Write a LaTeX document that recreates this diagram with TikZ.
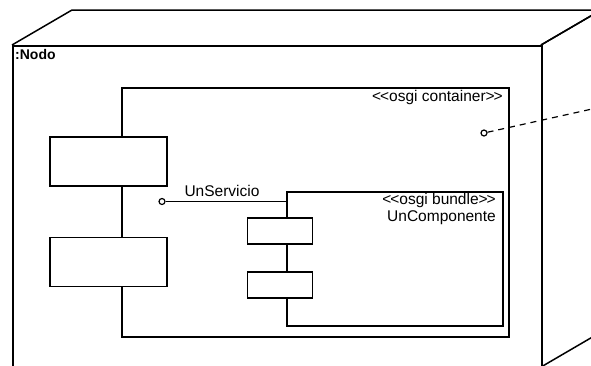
\documentclass[tikz,border=0pt]{standalone}
\usepackage{fontspec}
\setmainfont{Liberation Sans}
\usepackage{tikz}
\usetikzlibrary{positioning,calc}

\tikzset{
  umlline/.style={line width=1.5pt, line join=miter},
  box/.style={draw, umlline, fill=white, inner sep=0pt},
  port/.style={draw, line width=1.2pt, circle, fill=white, minimum size=6pt, inner sep=0pt},
  lbl/.style={font=\fontsize{15.5}{17}\selectfont, inner sep=0pt}
}
\newcommand{\stereo}[1]{\textless\kern-1pt\textless#1\textgreater\kern-1pt\textgreater}

\begin{document}
\begin{tikzpicture}[x=1pt, y=-1pt]
    \useasboundingbox (0,0) rectangle (591,365);
    \clip (0,0) rectangle (591,365);

    % The node (3d box)
    \draw[umlline] (12,45) -- (72,10) -- (601,10) -- (541,45);
    \draw[umlline] (541,45) -- (601,10) -- (601,332) -- (541,367);
    \node[box, fill=none, minimum width=529pt, minimum height=330pt, anchor=north west] (nodo) at (12,45) {};
    \node[lbl, font=\fontsize{14}{16}\selectfont\bfseries, anchor=north west] (nodoName) at (15,49) {:Nodo};

    % osgi container
    \node[box, minimum width=387pt, minimum height=249pt, anchor=north west] (container) at (121,87) {};
    \node[lbl, anchor=north east] (containerTag) at (503,90) {\stereo{osgi container}};

    % component boxes on the container's left edge
    \node[box, minimum width=117pt, minimum height=49pt] (cmpA) at (108.5,161.5) {};
    \node[box, minimum width=117pt, minimum height=49pt] (cmpB) at (108.5,262) {};

    % the container's outer port
    \node[port] (portCont) at (484,133) {};
    \coordinate (extEnd) at (601,107);
    \draw[line width=1.2pt, dash pattern=on 6pt off 5pt] (portCont) -- (extEnd);

    % osgi bundle
    \node[box, minimum width=216pt, minimum height=134pt, anchor=north west] (bundle) at (286,191) {};
    \node[lbl, anchor=north east] (bundleTag) at (496,193) {\stereo{osgi bundle}};
    \node[lbl, below=3pt of bundleTag.south east, anchor=north east] (bundleName) {UnComponente};

    \node[box, minimum width=65pt, minimum height=26pt] (bndA) at (280,231) {};
    \node[box, minimum width=65pt, minimum height=26pt] (bndB) at (280,285) {};

    % provided service
    \node[port] (portSvc) at (162,201.5) {};
    \draw[line width=1pt] (portSvc) -- (portSvc -| bundle.west);
    \node[lbl, anchor=south] (svcName) at (222,197) {UnServicio};
\end{tikzpicture}
\end{document}
